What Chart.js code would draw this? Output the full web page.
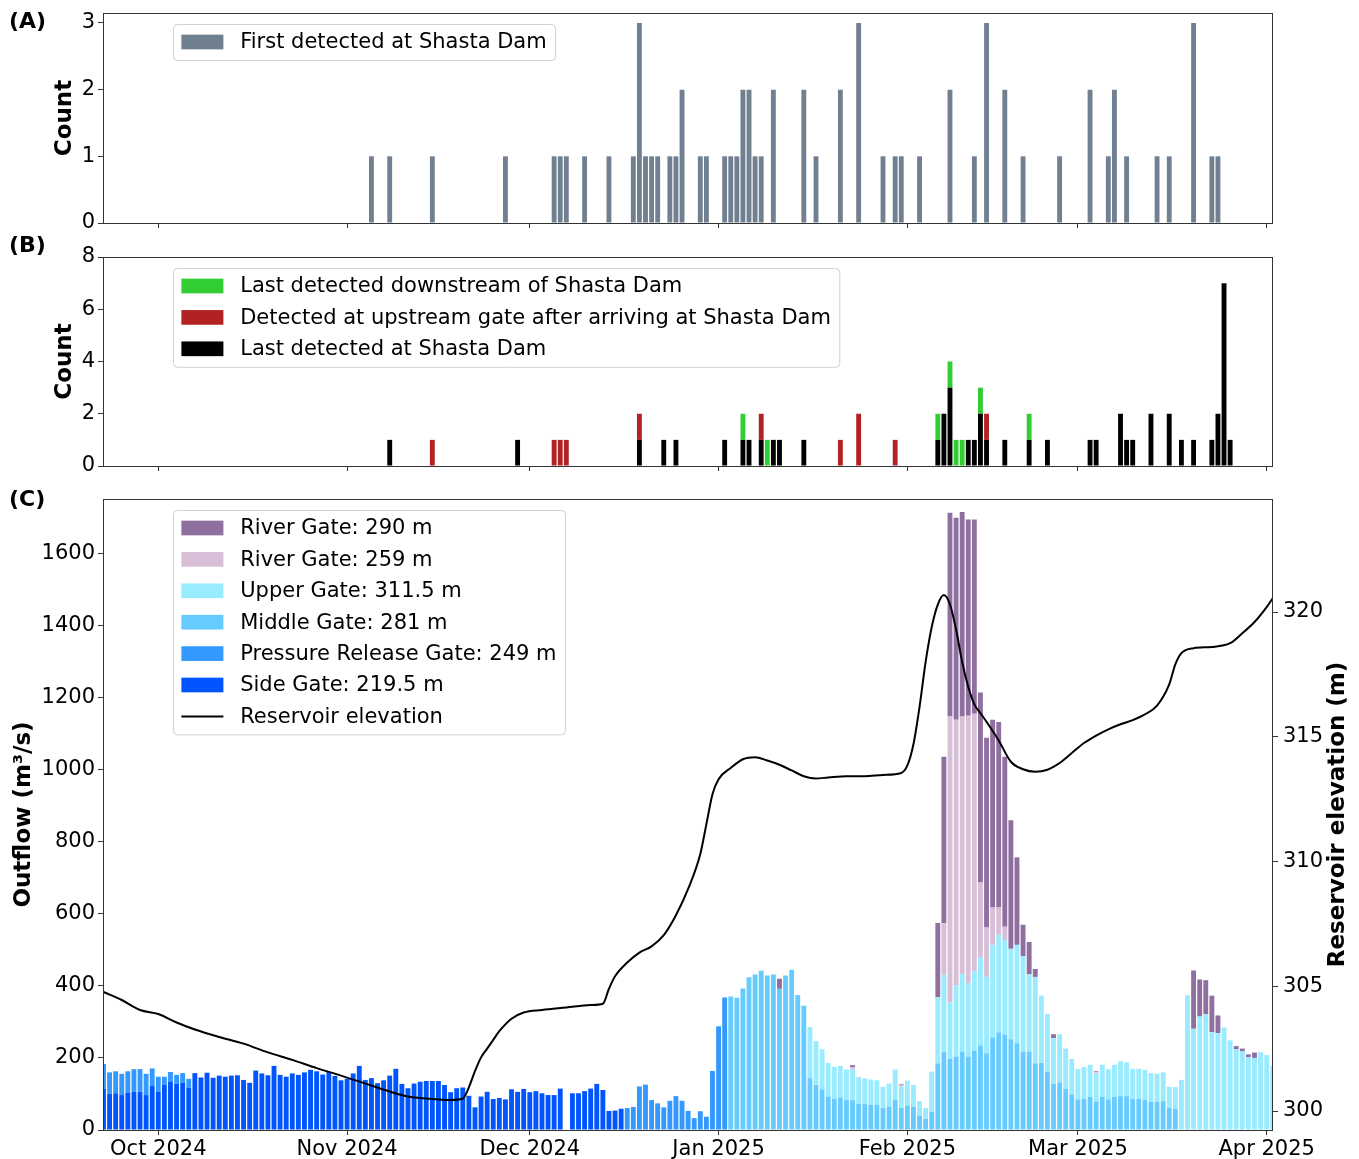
<!DOCTYPE html>
<html>
<head>
<meta charset="utf-8">
<title>Shasta Dam detections and outflow</title>
<script src="https://cdn.jsdelivr.net/npm/chart.js@4.4.1/dist/chart.umd.min.js"></script>
<style>
    html, body { margin: 0; padding: 0; background: #ffffff; }
    #wrap { position: relative; width: 1359px; height: 1159px; background: #ffffff; }
    #wrap canvas { position: absolute; left: 0; }
</style>
</head>
<body>
<div id="wrap">
    <canvas id="firstDetectedChart" width="1359" height="230" style="top:0px"></canvas>
    <canvas id="lastDetectedChart" width="1359" height="245" style="top:230px"></canvas>
    <canvas id="outflowChart" width="1359" height="684" style="top:475px"></canvas>
</div>
<script>
// Sumbu X: hari ke-0 = 1 Oktober 2024
const monthTicks = [0, 31, 61, 92, 123, 151, 182];
const monthLabels = ['Oct 2024', 'Nov 2024', 'Dec 2024', 'Jan 2025', 'Feb 2025', 'Mar 2025', 'Apr 2025'];
const countTicksA = [0, 1, 2, 3];
const countTicksB = [0, 2, 4, 6, 8];
const outflowTicks = [0, 200, 400, 600, 800, 1000, 1200, 1400, 1600];
const elevationTicks = [300, 305, 310, 315, 320];

// (A) First detected at Shasta Dam
const firstDetectedDates = [
    '2024-11-05', '2024-11-08', '2024-11-15', '2024-11-27', '2024-12-05', '2024-12-06', '2024-12-07',
    '2024-12-10', '2024-12-14', '2024-12-18', '2024-12-19', '2024-12-20', '2024-12-21', '2024-12-22',
    '2024-12-24', '2024-12-25', '2024-12-26', '2024-12-29', '2024-12-30', '2025-01-02', '2025-01-03',
    '2025-01-04', '2025-01-05', '2025-01-06', '2025-01-07', '2025-01-08', '2025-01-10', '2025-01-15',
    '2025-01-17', '2025-01-21', '2025-01-24', '2025-01-28', '2025-01-30', '2025-01-31', '2025-02-03',
    '2025-02-08', '2025-02-12', '2025-02-14', '2025-02-17', '2025-02-20', '2025-02-26', '2025-03-03',
    '2025-03-06', '2025-03-07', '2025-03-09', '2025-03-14', '2025-03-16', '2025-03-20', '2025-03-23',
    '2025-03-24'
];
const firstDetectedCounts = [
    1, 1, 1, 1, 1, 1, 1,
    1, 1, 1, 3, 1, 1, 1,
    1, 1, 2, 1, 1, 1, 1,
    1, 2, 2, 1, 1, 2, 2,
    1, 2, 3, 1, 1, 1, 1,
    2, 1, 3, 2, 1, 1, 2,
    1, 2, 1, 1, 1, 3, 1,
    1
];

// (B) Last detected at Shasta Dam
const lastShastaDates = [
    '2024-11-08', '2024-11-29', '2024-12-19', '2024-12-23', '2024-12-25', '2025-01-02', '2025-01-05',
    '2025-01-06', '2025-01-08', '2025-01-10', '2025-01-11', '2025-01-15', '2025-02-06', '2025-02-07',
    '2025-02-08', '2025-02-11', '2025-02-12', '2025-02-13', '2025-02-14', '2025-02-17', '2025-02-21',
    '2025-02-24', '2025-03-03', '2025-03-04', '2025-03-08', '2025-03-09', '2025-03-10', '2025-03-13',
    '2025-03-16', '2025-03-18', '2025-03-20', '2025-03-23', '2025-03-24', '2025-03-25', '2025-03-26'
];
const lastShastaCounts = [
    1, 1, 1, 1, 1, 1, 1,
    1, 1, 1, 1, 1, 1, 2,
    3, 1, 1, 2, 1, 1, 1,
    1, 1, 1, 2, 1, 1, 2,
    2, 1, 1, 1, 2, 7, 1
];
// Detected at upstream gate after arriving at Shasta Dam
const upstreamGateDates = [
    '2024-11-15', '2024-12-05', '2024-12-06', '2024-12-07', '2024-12-19',
    '2025-01-08', '2025-01-21', '2025-01-24', '2025-01-30', '2025-02-14'
];
const upstreamGateCounts = [1, 1, 1, 1, 1, 1, 1, 2, 1, 1];
// Last detected downstream of Shasta Dam
const downstreamDates = [
    '2025-01-05', '2025-01-09', '2025-02-06', '2025-02-08',
    '2025-02-09', '2025-02-10', '2025-02-13', '2025-02-21'
];
const downstreamCounts = [1, 1, 1, 1, 1, 1, 1, 1];

// (C) Outflow harian per gate (m3/s), mulai dari tanggal start masing-masing
const sideGateStart = '2024-09-22';
const sideGateFlow = [
    114, 101, 102, 97, 104, 106, 106, 97, 122, 106, 125, 135, 128, 131, 118,
    158, 146, 159, 145, 151, 148, 151, 152, 139, 131, 165, 157, 152, 178, 153,
    148, 157, 153, 160, 167, 163, 154, 161, 150, 138,
    142, 157, 178, 139, 144, 130, 138, 151, 170, 128, 116, 129, 134, 136, 136,
    136, 125, 105, 116, 118, 95, 63, 93, 106, 86, 89, 85, 113, 106, 114,
    105, 108, 102, 97, 97, 115,
    0, 102, 102, 108, 115, 128, 111, 53, 54, 59
];
const pressureGateStartAutumn = '2024-09-22';
const pressureGateFlowAutumn = [69, 59, 61, 59, 59, 63, 63, 59, 49, 42, 23, 26, 25, 27, 24];
const pressureGateStartWinter = '2024-12-17';
const pressureGateFlowWinter = [61, 64, 121, 126, 83, 74, 63, 81, 94, 81, 53, 33, 52, 37, 164, 288, 368];
const middleGateStart = '2025-01-03';
const middleGateFlow = [
    371, 367, 393, 424, 432, 442, 429, 432, 392, 429, 445, 375, 345,
    144, 125, 113, 93, 87, 90, 83, 83, 73, 72, 70, 70, 61, 65, 83, 61, 68, 64, 40, 31,
    51, 185, 216, 198, 204, 218, 204, 220, 235, 213, 257, 271, 265, 252, 241, 218, 218,
    185, 186, 162, 128, 132,
    114, 99, 85, 87, 92, 79, 92, 85, 92, 94, 94, 86, 86, 83, 79, 78, 80, 61, 59
];
const upperGateStart = '2025-01-16';
const upperGateFlow = [
    142, 122, 111, 93, 88, 88, 85, 85, 74, 71, 70, 68, 59, 64, 85, 61, 69, 61, 40, 30,
    111, 184, 214, 156, 198, 215, 204, 221, 243, 212, 257, 271, 262, 251, 273, 265, 214,
    240, 187, 160, 127, 134,
    112, 98, 84, 88, 89, 78, 89, 84, 89, 97, 94, 84, 84, 84, 79, 78, 80, 59, 60,
    139, 374, 281, 315, 321, 272, 269, 285, 249, 224, 218, 202, 200, 216, 208, 178
];
const riverGate259Start = '2025-01-23';
const riverGate259Flow = [
    6, 0, 0, 0, 0, 0, 0, 0, 4, 0, 0, 0, 0, 0, 0,
    145, 794, 737, 715, 742, 715, 209, 137, 104, 76, 37,
    0, 0, 0, 0, 0, 0, 0, 0, 0, 0, 0, 0, 0, 0, 3
];
const riverGate290Start = '2025-01-11';
const riverGate290Flow = [
    28, 0, 0, 0, 0, 0, 0, 0, 0, 0, 0, 0, 6, 0, 0, 0, 0, 0, 0, 0, 2, 0, 0, 0, 0, 0,
    206, 461, 566, 561, 568, 545, 539, 528, 527, 521, 515, 472, 357, 243, 87, 90, 22,
    0, 0, 11, 0, 0, 0, 0, 0, 0, 3,
    0, 0, 0, 0, 0, 0, 0, 0, 0, 0, 0, 0, 0, 0, 0,
    162, 103, 95, 101, 49, 0, 0, 9, 8, 8, 15
];

// Elevasi reservoir (m)
const elevationDates = [
    '2024-09-22', '2024-09-25', '2024-09-28', '2024-10-01', '2024-10-04', '2024-10-07', '2024-10-11',
    '2024-10-15', '2024-10-19', '2024-10-23', '2024-10-27', '2024-10-31', '2024-11-04', '2024-11-08',
    '2024-11-11', '2024-11-14', '2024-11-18', '2024-11-20', '2024-11-21', '2024-11-22', '2024-11-23',
    '2024-11-24', '2024-11-25', '2024-11-26', '2024-11-28', '2024-11-30', '2024-12-03', '2024-12-07',
    '2024-12-11', '2024-12-13', '2024-12-14', '2024-12-15', '2024-12-17', '2024-12-19', '2024-12-21',
    '2024-12-23', '2024-12-25', '2024-12-27', '2024-12-29', '2024-12-30', '2024-12-31', '2025-01-01',
    '2025-01-03', '2025-01-05', '2025-01-07', '2025-01-09', '2025-01-11', '2025-01-13', '2025-01-15',
    '2025-01-17', '2025-01-19', '2025-01-22', '2025-01-25', '2025-01-28', '2025-01-31', '2025-02-01',
    '2025-02-02', '2025-02-03', '2025-02-04', '2025-02-05', '2025-02-06', '2025-02-07', '2025-02-08',
    '2025-02-09', '2025-02-10', '2025-02-11', '2025-02-12', '2025-02-13', '2025-02-14', '2025-02-16',
    '2025-02-18', '2025-02-20', '2025-02-22', '2025-02-24', '2025-02-26', '2025-02-28', '2025-03-02',
    '2025-03-04', '2025-03-06', '2025-03-08', '2025-03-10', '2025-03-12', '2025-03-14', '2025-03-16',
    '2025-03-17', '2025-03-18', '2025-03-20', '2025-03-23', '2025-03-26', '2025-03-28', '2025-03-30',
    '2025-04-01', '2025-04-02'
];
const elevationValues = [
    304.77, 304.45, 304.05, 303.89, 303.55, 303.27, 302.97,
    302.70, 302.35, 302.05, 301.72, 301.42, 301.10, 300.78,
    300.58, 300.50, 300.44, 300.50, 300.95, 301.60, 302.15,
    302.50, 302.85, 303.20, 303.70, 303.95, 304.05, 304.15,
    304.25, 304.30, 304.90, 305.40, 305.95, 306.35, 306.60,
    307.05, 307.85, 308.90, 310.30, 311.50, 312.70, 313.30,
    313.75, 314.10, 314.18, 314.05, 313.88, 313.65, 313.42,
    313.33, 313.37, 313.42, 313.42, 313.47, 313.55, 313.85,
    314.70, 316.20, 318.00, 319.40, 320.30, 320.68, 320.30,
    319.30, 318.00, 317.00, 316.30, 315.95, 315.60, 314.85,
    314.00, 313.70, 313.60, 313.68, 313.95, 314.35, 314.75,
    315.05, 315.30, 315.50, 315.67, 315.90, 316.25, 317.10,
    317.90, 318.35, 318.55, 318.60, 318.75, 319.15, 319.60,
    320.20, 320.55
];

const FONT = '"DejaVu Sans", sans-serif';
const X_MIN = -9.08;
const X_MAX = 183.04;

// Konversi tanggal ke nomor hari relatif 1 Oktober 2024
function dayOf(dateStr) {
    return (Date.parse(dateStr + 'T00:00:00Z') - Date.parse('2024-10-01T00:00:00Z')) / 86400000;
}

// Titik bar dari daftar tanggal + jumlah
function pointsFromDates(dates, values) {
    return dates.map((d, i) => ({ x: dayOf(d), y: values[i] }));
}

// Titik bar harian dari tanggal mulai + deret nilai (nilai 0 dilewati)
function pointsFromStart(start, values) {
    const d0 = dayOf(start);
    return values.map((v, i) => ({ x: d0 + i, y: v })).filter(p => p.y > 0);
}

/**
 * Plugin bingkai panel, label (A)/(B)/(C) dan judul sumbu kanan
 */
const panelFramePlugin = {
    id: 'panelFrame',
    afterDatasetsDraw(chart, args, opts) {
        const { ctx, chartArea: a } = chart;
        ctx.save();
        ctx.strokeStyle = '#333333';
        ctx.lineWidth = 1;
        ctx.strokeRect(Math.round(a.left) + 0.5, Math.round(a.top) + 0.5,
            Math.round(a.right - a.left) - 1, Math.round(a.bottom - a.top));

        ctx.fillStyle = '#000000';
        ctx.font = 'bold 22px ' + FONT;
        ctx.textAlign = 'left';
        ctx.textBaseline = 'middle';
        ctx.fillText(opts.label, 9, opts.labelY);

        if (opts.rightTitle) {
            ctx.font = 'bold 23px ' + FONT;
            ctx.textAlign = 'center';
            ctx.translate(opts.rightTitleX, (a.top + a.bottom) / 2);
            ctx.rotate(-Math.PI / 2);
            ctx.fillText(opts.rightTitle, 0, 0);
        }
        ctx.restore();
    }
};

/**
 * Plugin legend di dalam area chart (gaya matplotlib)
 */
const insideLegendPlugin = {
    id: 'insideLegend',
    afterDraw(chart, args, opts) {
        const { ctx, chartArea } = chart;
        const items = opts.order.map(i => chart.data.datasets[i]);
        const fs = 21;
        const pad = 0.4 * fs;
        const handleW = 2 * fs;
        const handleH = 0.7 * fs;
        const textGap = 0.8 * fs;
        const rowH = 31.4;

        ctx.save();
        ctx.font = fs + 'px ' + FONT;
        const textW = Math.max(...items.map(ds => ctx.measureText(ds.label).width));
        const x = chartArea.left + 70;
        const y = chartArea.top + 11;
        const w = pad + handleW + textGap + textW + pad;
        const h = 36 + (items.length - 1) * rowH;

        // Kotak legend
        ctx.beginPath();
        ctx.roundRect(x + 0.5, y + 0.5, w, h, 4);
        ctx.fillStyle = 'rgba(255,255,255,0.8)';
        ctx.fill();
        ctx.strokeStyle = '#d0d0d0';
        ctx.lineWidth = 1;
        ctx.stroke();

        items.forEach((ds, i) => {
            const cy = y + 18 + i * rowH;
            if (ds.type === 'line') {
                ctx.strokeStyle = ds.borderColor;
                ctx.lineWidth = 2;
                ctx.beginPath();
                ctx.moveTo(x + pad, cy);
                ctx.lineTo(x + pad + handleW, cy);
                ctx.stroke();
            } else {
                ctx.fillStyle = ds.backgroundColor;
                ctx.fillRect(x + pad, cy - handleH / 2, handleW, handleH);
            }
            ctx.fillStyle = '#000000';
            ctx.textAlign = 'left';
            ctx.textBaseline = 'middle';
            ctx.fillText(ds.label, x + pad + handleW + textGap, cy + 1);
        });
        ctx.restore();
    }
};

// Sumbu X bersama (tanggal)
function buildXAxis(showLabels, axisHeight) {
    return {
        type: 'linear',
        min: X_MIN,
        max: X_MAX,
        offset: false,
        stacked: true,
        grid: { drawOnChartArea: false, drawTicks: true, tickLength: 5, color: '#333333', offset: false },
        border: { display: false },
        ticks: {
            display: showLabels,
            autoSkip: false,
            maxRotation: 0,
            padding: 2,
            color: '#000000',
            font: { family: FONT, size: 21 },
            callback: (value) => monthLabels[monthTicks.indexOf(value)] || ''
        },
        afterBuildTicks: (axis) => { axis.ticks = monthTicks.map(v => ({ value: v })); },
        afterFit: (axis) => {
            axis.height = axisHeight;
            axis.paddingLeft = 0;
            axis.paddingRight = 0;
        }
    };
}

// Sumbu Y kiri
function buildYAxis(min, max, tickValues, title, titlePad) {
    return {
        type: 'linear',
        position: 'left',
        min: min,
        max: max,
        stacked: true,
        grid: { drawOnChartArea: false, tickLength: 5, color: '#333333' },
        border: { display: false },
        ticks: {
            color: '#000000',
            padding: 3,
            font: { family: FONT, size: 21 },
            callback: (value) => String(value)
        },
        title: {
            display: true,
            text: title,
            color: '#000000',
            font: { family: FONT, size: 23, weight: 'bold' },
            padding: { top: titlePad, bottom: 0 }
        },
        afterBuildTicks: (axis) => { axis.ticks = tickValues.map(v => ({ value: v })); },
        afterFit: (axis) => {
            axis.width = 103;
            axis.paddingTop = 0;
            axis.paddingBottom = 0;
        }
    };
}

const baseOptions = {
    responsive: false,
    animation: false,
    events: []
};

class ShastaChartsManager {
    constructor() {
        this.charts = {};
    }

    init() {
        this.initFirstDetectedChart();
        this.initLastDetectedChart();
        this.initOutflowChart();
    }

    /**
     * Panel (A): ikan pertama terdeteksi di Shasta Dam
     */
    initFirstDetectedChart() {
        const ctx = document.getElementById('firstDetectedChart').getContext('2d');
        this.charts.first = new Chart(ctx, {
            type: 'bar',
            data: {
                datasets: [{
                    label: 'First detected at Shasta Dam',
                    data: pointsFromDates(firstDetectedDates, firstDetectedCounts),
                    backgroundColor: '#708090',
                    borderWidth: 0,
                    barPercentage: 0.8,
                    categoryPercentage: 1.0
                }]
            },
            options: {
                ...baseOptions,
                layout: { padding: { left: 0, right: 86, top: 13, bottom: 0 } },
                plugins: {
                    legend: { display: false },
                    tooltip: { enabled: false },
                    panelFrame: { label: '(A)', labelY: 22 },
                    insideLegend: { order: [0] }
                },
                scales: {
                    x: buildXAxis(false, 7),
                    y: buildYAxis(0, 3.15, countTicksA, 'Count', 51.7)
                }
            },
            plugins: [panelFramePlugin, insideLegendPlugin]
        });
    }

    /**
     * Panel (B): deteksi terakhir (stacked)
     */
    initLastDetectedChart() {
        const ctx = document.getElementById('lastDetectedChart').getContext('2d');
        const barStyle = { borderWidth: 0, barPercentage: 0.8, categoryPercentage: 1.0 };
        this.charts.last = new Chart(ctx, {
            type: 'bar',
            data: {
                datasets: [
                    { label: 'Last detected at Shasta Dam', data: pointsFromDates(lastShastaDates, lastShastaCounts), backgroundColor: '#000000', ...barStyle },
                    { label: 'Detected at upstream gate after arriving at Shasta Dam', data: pointsFromDates(upstreamGateDates, upstreamGateCounts), backgroundColor: '#B22222', ...barStyle },
                    { label: 'Last detected downstream of Shasta Dam', data: pointsFromDates(downstreamDates, downstreamCounts), backgroundColor: '#32CD32', ...barStyle }
                ]
            },
            options: {
                ...baseOptions,
                layout: { padding: { left: 0, right: 86, top: 27, bottom: 0 } },
                plugins: {
                    legend: { display: false },
                    tooltip: { enabled: false },
                    panelFrame: { label: '(B)', labelY: 16 },
                    insideLegend: { order: [2, 1, 0] }
                },
                scales: {
                    x: buildXAxis(false, 9),
                    y: buildYAxis(0, 8, countTicksB, 'Count', 51.7)
                }
            },
            plugins: [panelFramePlugin, insideLegendPlugin]
        });
    }

    /**
     * Panel (C): outflow per gate + elevasi reservoir
     */
    initOutflowChart() {
        const ctx = document.getElementById('outflowChart').getContext('2d');
        const barStyle = { type: 'bar', yAxisID: 'y', borderWidth: 0, barPercentage: 0.8, categoryPercentage: 1.0 };
        const pressurePoints = pointsFromStart(pressureGateStartAutumn, pressureGateFlowAutumn)
            .concat(pointsFromStart(pressureGateStartWinter, pressureGateFlowWinter));

        this.charts.outflow = new Chart(ctx, {
            type: 'bar',
            data: {
                datasets: [
                    {
                        type: 'line',
                        label: 'Reservoir elevation',
                        yAxisID: 'y1',
                        data: pointsFromDates(elevationDates, elevationValues),
                        borderColor: '#000000',
                        backgroundColor: '#000000',
                        borderWidth: 2,
                        pointRadius: 0,
                        fill: false,
                        cubicInterpolationMode: 'monotone'
                    },
                    { label: 'Side Gate: 219.5 m', data: pointsFromStart(sideGateStart, sideGateFlow), backgroundColor: '#0055FF', ...barStyle },
                    { label: 'Pressure Release Gate: 249 m', data: pressurePoints, backgroundColor: '#3399FF', ...barStyle },
                    { label: 'Middle Gate: 281 m', data: pointsFromStart(middleGateStart, middleGateFlow), backgroundColor: '#66CCFF', ...barStyle },
                    { label: 'Upper Gate: 311.5 m', data: pointsFromStart(upperGateStart, upperGateFlow), backgroundColor: '#99EBFF', ...barStyle },
                    { label: 'River Gate: 259 m', data: pointsFromStart(riverGate259Start, riverGate259Flow), backgroundColor: '#D8BFD8', ...barStyle },
                    { label: 'River Gate: 290 m', data: pointsFromStart(riverGate290Start, riverGate290Flow), backgroundColor: '#8F6F9F', ...barStyle }
                ]
            },
            options: {
                ...baseOptions,
                layout: { padding: { left: 0, right: 0, top: 24, bottom: 0 } },
                plugins: {
                    legend: { display: false },
                    tooltip: { enabled: false },
                    panelFrame: { label: '(C)', labelY: 25, rightTitle: 'Reservoir elevation (m)', rightTitleX: 1338 },
                    insideLegend: { order: [6, 5, 4, 3, 2, 1, 0] }
                },
                scales: {
                    x: buildXAxis(true, 29),
                    y: buildYAxis(0, 1752, outflowTicks, 'Outflow (m³/s)', 10.2),
                    y1: {
                        type: 'linear',
                        position: 'right',
                        min: 299.24,
                        max: 324.53,
                        grid: { drawOnChartArea: false, tickLength: 5, color: '#333333' },
                        border: { display: false },
                        ticks: { color: '#000000', padding: 5, font: { family: FONT, size: 21 } },
                        afterBuildTicks: (axis) => { axis.ticks = elevationTicks.map(v => ({ value: v })); },
                        afterFit: (axis) => {
                            axis.width = 86;
                            axis.paddingTop = 0;
                            axis.paddingBottom = 0;
                        }
                    }
                }
            },
            plugins: [panelFramePlugin, insideLegendPlugin]
        });
    }
}

new ShastaChartsManager().init();
</script>
</body>
</html>
